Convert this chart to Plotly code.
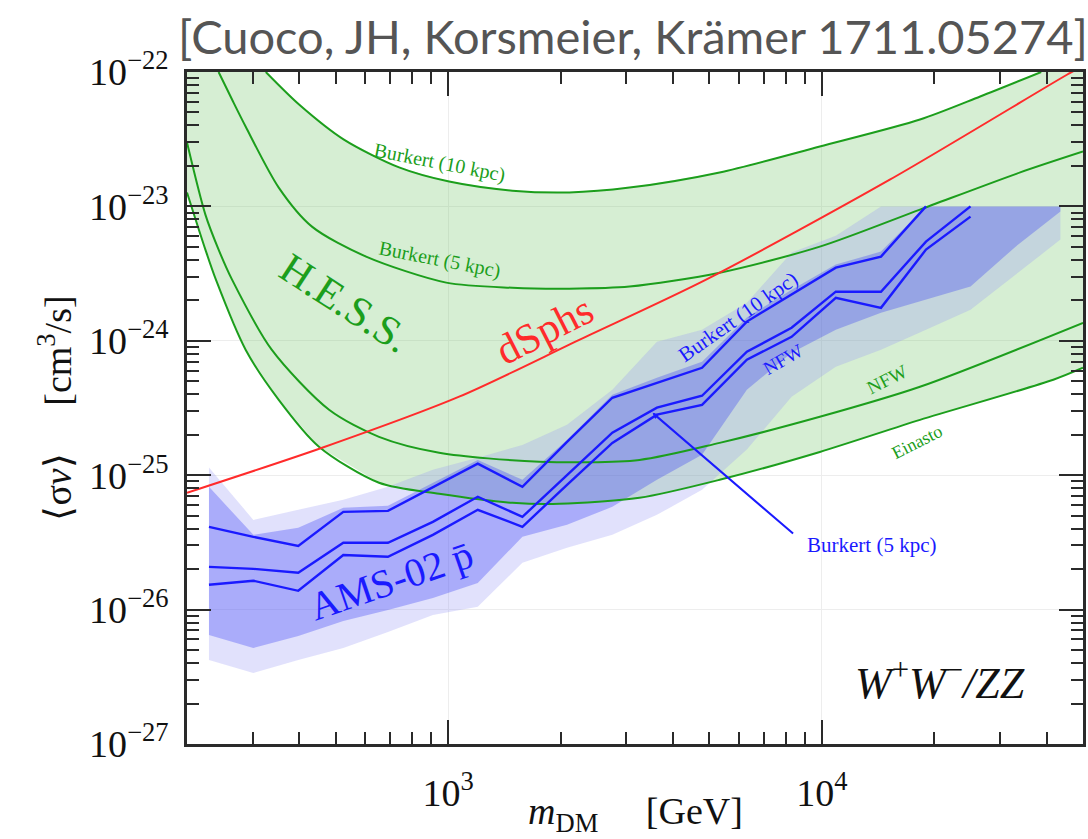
import math
import plotly.graph_objects as go

# ---------------------------------------------------------------------------
# Axis ranges and tick labels
# ---------------------------------------------------------------------------
X_RANGE = (200, 50000)          # m_DM [GeV]
Y_RANGE = (1e-27, 1e-22)        # <sigma v> [cm^3/s]
X_TICK_EXP = [3, 4]
Y_TICK_EXP = [-27, -26, -25, -24, -23, -22]

# ---------------------------------------------------------------------------
# H.E.S.S. Galactic-centre limits for different dark-matter profiles
# ---------------------------------------------------------------------------
hess_b10_mass = [325, 399, 526, 739, 1006, 1485, 2110, 3057, 5326, 9877, 18310, 26530, 38640]
hess_b10_sv = [1.0e-22, 5.73e-23, 3.14e-23, 1.95e-23, 1.53e-23, 1.31e-23, 1.27e-23,
               1.38e-23, 1.79e-23, 2.79e-23, 4.43e-23, 6.57e-23, 1.0e-22]

hess_b5_mass = [243, 264, 287, 352, 432, 603, 988, 1485, 2110, 3057, 5326, 9877, 18310, 33950, 50000]
hess_b5_sv = [1.0e-22, 6.24e-23, 3.93e-23, 1.38e-23, 7.07e-24, 4.23e-24, 2.71e-24, 2.48e-24,
              2.44e-24, 2.53e-24, 3.21e-24, 5.02e-24, 9.47e-24, 1.79e-23, 2.56e-23]

hess_nfw_mass = [200, 224, 243, 264, 337, 480, 653, 946, 1754, 3251, 5326, 9877, 18310, 50000]
hess_nfw_sv = [2.99e-23, 8.69e-24, 4.77e-24, 2.85e-24, 8.59e-25, 3.07e-25, 1.93e-25, 1.47e-25,
               1.26e-25, 1.30e-25, 1.74e-25, 2.72e-25, 4.55e-25, 1.36e-24]

hess_ein_mass = [200, 224, 239, 287, 352, 451, 653, 946, 1485, 1984, 3251, 5326, 9877, 18310, 41640, 50000]
hess_ein_sv = [1.27e-23, 4.77e-24, 2.85e-24, 8.59e-25, 3.64e-25, 1.63e-25, 8.78e-26, 7.27e-26,
               6.23e-26, 6.12e-26, 6.79e-26, 9.24e-26, 1.49e-25, 2.58e-25, 5.13e-25, 6.30e-25]

# ---------------------------------------------------------------------------
# Fermi-LAT dwarf spheroidal limit
# ---------------------------------------------------------------------------
dsph_mass = [200, 460, 1070, 2250, 4900, 15200, 45400, 50000]
dsph_sv = [7.4e-26, 1.6e-25, 3.84e-25, 1.02e-24, 2.85e-24, 1.58e-23, 9.58e-23, 1.11e-22]

# ---------------------------------------------------------------------------
# AMS-02 antiproton limits
# ---------------------------------------------------------------------------
ams_mass = [229, 301, 397, 524, 690, 910, 1200, 1580, 2080, 2750,
            3620, 4780, 6300, 8300, 10900, 14400, 19000, 25000, 33000, 43500]

# outer (light) band
ams_light_hi = [1.14e-25, 4.65e-26, 5.53e-26, 6.56e-26, 8.19e-26, 1.10e-25, 1.35e-25, 1.68e-25,
                2.37e-25, 4.32e-25, 9.85e-25, 1.21e-24, 1.92e-24, 4.53e-24, 6.06e-24,
                1.0e-23, 1.0e-23, 1.0e-23, 1.0e-23, 1.0e-23]
ams_light_lo = [4.22e-27, 3.38e-27, 4.22e-27, 5.19e-27, 6.82e-27, 9.13e-27, 1.05e-26, 2.23e-26,
                2.88e-26, 3.60e-26, 5.07e-26, 7.78e-26, 1.55e-25, 3.84e-25, 6.41e-25,
                8.59e-25, 1.21e-24, 1.70e-24, 3.11e-24, 5.66e-24]

# inner (dark) band
ams_dark_hi = [8.19e-26, 3.60e-26, 4.06e-26, 5.72e-26, 5.92e-26, 8.78e-26, 1.30e-25, 9.24e-26,
               1.83e-25, 3.97e-25, 5.31e-25, 6.99e-25, 1.49e-24, 2.40e-24, 3.69e-24,
               4.61e-24, 1.0e-23, 1.0e-23, 1.0e-23, 1.0e-23]
ams_dark_lo = [6.48e-27, 5.19e-27, 6.37e-27, 8.23e-27, 9.95e-27, 1.22e-26, 1.58e-26, 3.48e-26,
               4.27e-26, 5.82e-26, 9.24e-26, 1.42e-25, 4.32e-25, 8.15e-25, 1.21e-24,
               1.62e-24, 2.02e-24, 2.53e-24, 5.02e-24, 9.15e-24]

# individual profile curves
ams_b10_sv = [4.13e-26, 3.48e-26, 2.98e-26, 5.34e-26, 5.43e-26, 8.19e-26, 1.22e-25, 8.19e-26,
              1.77e-25, 3.77e-25, 4.88e-25, 6.30e-25, 1.39e-24, 2.20e-24, 3.50e-24, 4.23e-24, 1.0e-23]
ams_nfw_sv = [2.08e-26, 2.01e-26, 1.88e-26, 3.14e-26, 3.14e-26, 4.50e-26, 6.91e-26, 4.90e-26,
              1.00e-25, 2.07e-25, 3.18e-25, 3.90e-25, 8.30e-25, 1.25e-24, 2.32e-24, 2.32e-24,
              5.47e-24, 1.0e-23]
ams_b5_sv = [1.53e-26, 1.64e-26, 1.38e-26, 2.55e-26, 2.47e-26, 3.60e-26, 5.53e-26, 4.13e-26,
             8.48e-26, 1.74e-25, 2.82e-25, 3.34e-25, 7.23e-25, 1.07e-24, 2.09e-24, 1.76e-24,
             4.77e-24, 8.39e-24]

# ---------------------------------------------------------------------------
# Styling
# ---------------------------------------------------------------------------
SERIF = "Liberation Serif"
GREEN = "#1c9e1c"
GREEN_FILL = "rgba(120,200,110,0.30)"
RED = "#ff2b2b"
BLUE = "#1a1aff"
BLUE_LIGHT = "rgba(153,153,245,0.29)"
BLUE_DARK = "rgba(50,55,245,0.31)"
AXIS_COL = "#2a2a2a"
TEXT_COL = "#111111"

fig = go.Figure()


def add_line(x, y, color, width, shape="linear"):
    fig.add_trace(go.Scatter(x=x, y=y, mode="lines",
                             line=dict(color=color, width=width, shape=shape, smoothing=0.8),
                             hoverinfo="skip", showlegend=False))


def add_region(x, y, color):
    fig.add_trace(go.Scatter(x=x, y=y, mode="lines", fill="toself", fillcolor=color,
                             line=dict(width=0, color=color), hoverinfo="skip", showlegend=False))


# H.E.S.S. band: between the Burkert (10 kpc) and Einasto curves
add_region([X_RANGE[0]] + hess_b10_mass + [X_RANGE[1]] + hess_ein_mass[::-1],
           [Y_RANGE[1]] + hess_b10_sv + [Y_RANGE[1]] + hess_ein_sv[::-1], GREEN_FILL)

# AMS-02 bands
add_region(ams_mass + ams_mass[::-1], ams_light_hi + ams_light_lo[::-1], BLUE_LIGHT)
add_region(ams_mass + ams_mass[::-1], ams_dark_hi + ams_dark_lo[::-1], BLUE_DARK)

# H.E.S.S. curves
for mx, sv in [(hess_b10_mass, hess_b10_sv), (hess_b5_mass, hess_b5_sv),
               (hess_nfw_mass, hess_nfw_sv), (hess_ein_mass, hess_ein_sv)]:
    add_line(mx, sv, GREEN, 2, "spline")

# dSphs
add_line(dsph_mass, dsph_sv, RED, 2, "spline")

# AMS-02 curves
add_line(ams_mass[:len(ams_b10_sv)], ams_b10_sv, BLUE, 2.4)
add_line(ams_mass[:len(ams_nfw_sv)], ams_nfw_sv, BLUE, 2.4)
add_line(ams_mass[:len(ams_b5_sv)], ams_b5_sv, BLUE, 2.4)


# ---------------------------------------------------------------------------
# Labels on the plot
# ---------------------------------------------------------------------------
def label(text, x, y, color, size, angle=0):
    fig.add_annotation(x=math.log10(x), y=math.log10(y), xref="x", yref="y", text=text,
                       showarrow=False, textangle=angle,
                       font=dict(family=SERIF, size=size, color=color))


label("H.E.S.S.", 530, 1.92e-24, GREEN, 42, 33)
label("dSphs", 1809, 1.21e-24, RED, 42, -27)
label("Burkert (10 kpc)", 946, 2.12e-23, GREEN, 20, 11)
label("Burkert (5 kpc)", 946, 4.02e-24, GREEN, 20, 11)
label("Burkert (10 kpc)", 5955, 1.51e-24, BLUE, 21, -35)
label("NFW", 7862, 7.23e-25, BLUE, 19, -30)
label("NFW", 14940, 5.13e-25, GREEN, 19, -27)
label("Einasto", 17980, 1.77e-25, GREEN, 18, -27)
label("AMS-02 p\u0304", 703, 1.66e-26, BLUE, 40, -19)
label("<i>W</i><sup>+</sup><i>W</i><sup>\u2212</sup><i>/ZZ</i>", 20720, 2.99e-27, TEXT_COL, 44)
label("Burkert (5 kpc)", 13610, 3.03e-26, BLUE, 21)

# pointer to the Burkert (5 kpc) AMS-02 curve
fig.add_annotation(x=math.log10(3524), y=math.log10(2.91e-25), xref="x", yref="y",
                   text="", showarrow=True, arrowhead=2, arrowsize=0.6,
                   arrowwidth=2, arrowcolor=BLUE, ax=142, ay=122, standoff=0)

# citation header
fig.add_annotation(x=1.008, y=1.053, xref="paper", yref="paper", xanchor="right", yanchor="middle",
                   text="[Cuoco, JH, Korsmeier, Kr\u00e4mer 1711.05274]", showarrow=False,
                   font=dict(family="Lato", size=47, color="#555555"))

# x-axis title
fig.add_annotation(x=0.5, y=-0.104, xref="paper", yref="paper", xanchor="center", yanchor="middle",
                   text="<i>m</i><sub>DM</sub>     [GeV]", showarrow=False,
                   font=dict(family=SERIF, size=38, color=TEXT_COL))


# ---------------------------------------------------------------------------
# Axes
# ---------------------------------------------------------------------------
def minor_vals(lo, hi):
    out = []
    for e in range(math.floor(math.log10(lo)), math.ceil(math.log10(hi)) + 1):
        for m in range(2, 10):
            v = m * 10.0 ** e
            if lo <= v <= hi:
                out.append(v)
    return out


def axis(rng, exps, label_standoff):
    return dict(
        type="log", range=[math.log10(rng[0]), math.log10(rng[1])],
        automargin=False,
        tickmode="array", tickvals=[10.0 ** e for e in exps],
        ticktext=["10<sup>%s</sup>" % str(e).replace("-", "\u2212") for e in exps],
        ticks="inside", ticklen=24, tickwidth=2, tickcolor=AXIS_COL,
        ticklabelstandoff=label_standoff,
        minor=dict(tickmode="array", tickvals=minor_vals(*rng), ticks="inside", ticklen=12,
                   tickwidth=1.5, tickcolor=AXIS_COL, showgrid=False),
        showline=True, linecolor=AXIS_COL, linewidth=2.5, mirror="allticks",
        showgrid=True, gridcolor="#ededed", gridwidth=1, zeroline=False,
        tickfont=dict(family=SERIF, size=38, color=TEXT_COL),
    )


fig.update_layout(
    width=1088, height=839,
    margin=dict(l=187, r=5, t=72, b=95),
    paper_bgcolor="white", plot_bgcolor="white",
    showlegend=False,
    xaxis=axis(X_RANGE, X_TICK_EXP, 14),
    yaxis=axis(Y_RANGE, Y_TICK_EXP, 8),
)
fig.update_yaxes(title=dict(text="\u27e8\u03c3<i>v</i>\u27e9     [cm<sup>3</sup>/s]", standoff=6,
                            font=dict(family=SERIF, size=38, color=TEXT_COL)))

fig.write_html("out.html")
